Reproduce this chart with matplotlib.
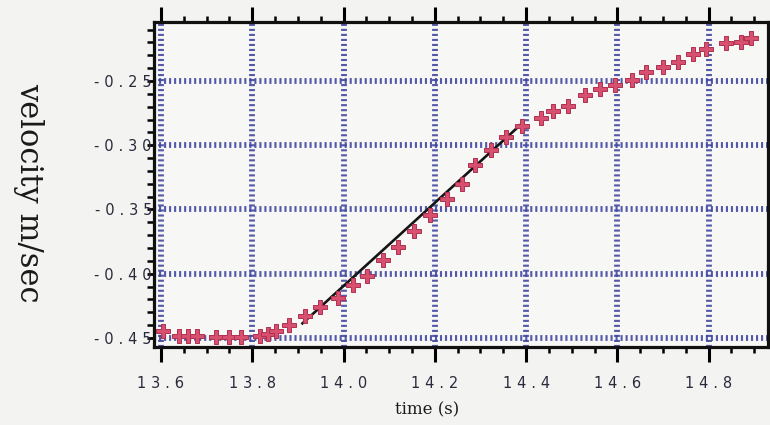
import matplotlib
matplotlib.use("Agg")
import matplotlib.pyplot as plt
import numpy as np
from matplotlib.ticker import MultipleLocator, FixedLocator, FuncFormatter

# ---- data ----
time_s = [13.604, 13.639, 13.659, 13.679, 13.721, 13.749, 13.775, 13.817, 13.834,
          13.852, 13.880, 13.916, 13.948, 13.988, 14.021, 14.052, 14.086, 14.119,
          14.154, 14.189, 14.226, 14.260, 14.288, 14.324, 14.355, 14.390, 14.433,
          14.460, 14.492, 14.530, 14.562, 14.595, 14.631, 14.663, 14.699, 14.732,
          14.766, 14.794, 14.838, 14.871, 14.893]
velocity = [-0.4449, -0.4481, -0.4481, -0.4481, -0.4496, -0.4496, -0.4496, -0.4484,
            -0.4465, -0.4446, -0.4399, -0.4329, -0.4259, -0.4189, -0.4091, -0.4014,
            -0.3893, -0.3789, -0.3667, -0.3543, -0.3418, -0.3302, -0.3154, -0.3037,
            -0.2932, -0.2854, -0.2790, -0.2733, -0.2695, -0.2609, -0.2566, -0.2531,
            -0.2490, -0.2432, -0.2389, -0.2350, -0.2290, -0.2253, -0.2207, -0.2194,
            -0.2168]
fit_time = [13.910, 14.389]
fit_velocity = [-0.4386, -0.2837]

x_ticks = [13.6, 13.8, 14.0, 14.2, 14.4, 14.6, 14.8]
y_ticks = [-0.45, -0.40, -0.35, -0.30, -0.25]
x_label = "time (s)"
y_label = "velocity m/sec"

SP = "\u2004"
def spaced(s):
    return SP.join(list(s))

fig = plt.figure(figsize=(7.7, 4.25), dpi=100, facecolor="#f3f3f1")
ax = fig.add_axes([154/770, 1-347/425, (768-154)/770, (347-22)/425])
ax.set_facecolor("#f7f7f5")

ax.set_xlim(13.5847, 14.930)
ax.set_ylim(-0.457, -0.2041)

grid_color = "#4148a0"
for xv in x_ticks:
    ax.axvline(xv, color=grid_color, lw=4.2, ls=(0, (0.36, 0.5)), alpha=0.9, zorder=1)
for yv in y_ticks:
    ax.axhline(yv, color=grid_color, lw=4.2, ls=(0, (0.36, 0.5)), alpha=0.9, zorder=1)

ax.plot(fit_time, fit_velocity, color="#151515", lw=1.9, zorder=3)
ax.plot(time_s, velocity, ls="none", marker="P", ms=10.5,
        mfc="#d8506f", mec="#b03050", mew=0.7, zorder=4)

ax.xaxis.set_major_locator(FixedLocator(x_ticks))
ax.xaxis.set_minor_locator(MultipleLocator(0.05))
ax.yaxis.set_major_locator(FixedLocator(y_ticks))
ax.yaxis.set_minor_locator(MultipleLocator(0.01))
ax.xaxis.set_major_formatter(FuncFormatter(lambda v, p: spaced(f"{v:.1f}")))
ax.yaxis.set_major_formatter(FuncFormatter(lambda v, p: spaced(f"{v:.2f}")))

label_color = "#2a2a3c"
ax.tick_params(axis="x", which="major", direction="out", length=11, width=2.2,
               top=True, bottom=True, pad=10, labelsize=10.5, labelcolor=label_color)
ax.tick_params(axis="x", which="minor", direction="out", length=4, width=1.8,
               top=True, bottom=True)
ax.tick_params(axis="y", which="major", direction="out", length=5, width=2.0,
               left=True, right=True, pad=-3.5, labelsize=10.5, labelcolor=label_color)
ax.tick_params(axis="y", which="minor", direction="out", length=5, width=1.8,
               left=True, right=True)
for lab in ax.get_xticklabels() + ax.get_yticklabels():
    lab.set_family(["DejaVu Sans"])

for sp in ax.spines.values():
    sp.set_linewidth(2.3)
    sp.set_color("#111111")

ax.set_xlabel(x_label, family="DejaVu Serif", fontsize=12, color="#1a1a1a")
ax.xaxis.set_label_coords(0.445, -0.168)
ax.set_ylabel(y_label, family="DejaVu Serif", fontsize=22, color="#1a1a1a",
              rotation=270, va="center", ha="center")
ax.yaxis.set_label_coords(-0.205, 0.474)

fig.savefig("out.png", dpi=100, facecolor=fig.get_facecolor())
